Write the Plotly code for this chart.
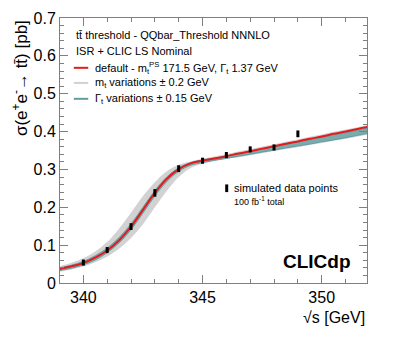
import plotly.graph_objects as go

# ---- data ----
sqrt_s = [339.0, 339.5, 340.0, 340.5, 341.0, 341.5, 342.0, 342.5, 343.0, 343.5,
          344.0, 344.5, 345.0, 345.5, 346.0, 346.5, 347.0, 347.5, 348.0, 348.5,
          349.0, 349.5, 350.0, 350.5, 351.0, 351.5, 352.0]

xsec_default = [0.037, 0.044, 0.053, 0.067, 0.086, 0.113, 0.149, 0.193, 0.238, 0.275,
                0.301, 0.316, 0.323, 0.329, 0.335, 0.342, 0.348, 0.355, 0.361, 0.368,
                0.374, 0.381, 0.387, 0.394, 0.400, 0.407, 0.413]

mt_var_hi = [0.043, 0.052, 0.064, 0.082, 0.107, 0.142, 0.184, 0.228, 0.265, 0.294,
             0.311, 0.320, 0.327, 0.333, 0.339, 0.346, 0.352, 0.359, 0.365, 0.372,
             0.378, 0.385, 0.391, 0.398, 0.404, 0.410, 0.417]
mt_var_lo = [0.031, 0.037, 0.045, 0.056, 0.071, 0.092, 0.120, 0.157, 0.202, 0.245,
             0.281, 0.305, 0.316, 0.324, 0.330, 0.333, 0.339, 0.344, 0.350, 0.355,
             0.360, 0.366, 0.371, 0.377, 0.382, 0.388, 0.394]

gt_var_hi = [0.040, 0.047, 0.057, 0.072, 0.092, 0.120, 0.156, 0.200, 0.244, 0.280,
             0.304, 0.318, 0.325, 0.330, 0.336, 0.342, 0.348, 0.354, 0.360, 0.366,
             0.372, 0.378, 0.385, 0.391, 0.397, 0.404, 0.410]
gt_var_lo = [0.033, 0.039, 0.048, 0.061, 0.080, 0.106, 0.141, 0.185, 0.230, 0.268,
             0.295, 0.311, 0.318, 0.324, 0.329, 0.335, 0.340, 0.346, 0.351, 0.357,
             0.362, 0.367, 0.373, 0.378, 0.384, 0.390, 0.396]

data_x = [340, 341, 342, 343, 344, 345, 346, 347, 348, 349]
data_y = [0.054, 0.087, 0.149, 0.238, 0.302, 0.323, 0.338, 0.353, 0.358, 0.394]
data_err = [0.008, 0.008, 0.009, 0.010, 0.009, 0.008, 0.008, 0.008, 0.008, 0.009]

RED = "#e41a1c"
GREY = "#d2d2d2"
TEAL = "#5f9ea0"
FONT = "Liberation Sans, Arial, Helvetica, sans-serif"

fig = go.Figure()

# m_t variation band (grey)
fig.add_trace(go.Scatter(x=sqrt_s, y=mt_var_lo, mode="lines", line=dict(color=GREY, width=1, shape="spline"),
                         showlegend=False, hoverinfo="skip"))
fig.add_trace(go.Scatter(x=sqrt_s, y=mt_var_hi, mode="lines", line=dict(color=GREY, width=1, shape="spline"),
                         fill="tonexty", fillcolor=GREY, showlegend=False, hoverinfo="skip"))
# Gamma_t variation band (teal)
fig.add_trace(go.Scatter(x=sqrt_s, y=gt_var_lo, mode="lines", line=dict(color=TEAL, width=1, shape="spline"),
                         showlegend=False, hoverinfo="skip"))
fig.add_trace(go.Scatter(x=sqrt_s, y=gt_var_hi, mode="lines", line=dict(color=TEAL, width=1, shape="spline"),
                         fill="tonexty", fillcolor="rgba(95,158,160,0.75)", showlegend=False, hoverinfo="skip"))
# default curve
fig.add_trace(go.Scatter(x=sqrt_s, y=xsec_default, mode="lines", line=dict(color=RED, width=2, shape="spline"),
                         showlegend=False))
# simulated data points
fig.add_trace(go.Scatter(x=data_x, y=data_y, mode="markers",
                         marker=dict(size=2, color="black"),
                         error_y=dict(type="data", array=data_err, visible=True, color="black",
                                      thickness=3, width=0),
                         showlegend=False))

axis_common = dict(showline=True, linecolor="#7f7f7f", linewidth=1, mirror="allticks",
                   ticks="inside", tickcolor="#7f7f7f", ticklen=8, tickwidth=1,
                   showgrid=False, zeroline=False, automargin=False,
                   tickfont=dict(family=FONT, size=16, color="black"))

fig.update_xaxes(range=[339.02, 351.9], tickvals=[340, 345, 350],
                 minor=dict(ticks="inside", ticklen=4, dtick=1, tick0=340, tickcolor="#7f7f7f", showgrid=False),
                 **axis_common)
fig.update_yaxes(range=[0, 0.7], tickvals=[0, 0.1, 0.2, 0.3, 0.4, 0.5, 0.6, 0.7],
                 ticktext=["0", "0.1", "0.2", "0.3", "0.4", "0.5", "0.6", "0.7"],
                 minor=dict(ticks="inside", ticklen=4, dtick=0.02, tick0=0, tickcolor="#7f7f7f", showgrid=False),
                 **axis_common)

ann = []
# axis titles
ann.append(dict(text="σ(e<sup>+</sup>e<sup>-</sup>→ tt\u0304) [pb]", xref="paper", yref="paper",
                x=-0.13, y=1.0, xanchor="center", yanchor="top", textangle=-90, showarrow=False,
                font=dict(family=FONT, size=17, color="black")))
ann.append(dict(text="√s [GeV]", xref="paper", yref="paper", x=1.0, y=-0.092,
                xanchor="right", yanchor="top", showarrow=False,
                font=dict(family=FONT, size=16, color="black")))
# legend header lines
leg_font = dict(family=FONT, size=11, color="black")
ann.append(dict(text="tt\u0304 threshold - QQbar_Threshold NNNLO", xref="paper", yref="paper",
                x=0.045, y=0.935, xanchor="left", yanchor="middle", showarrow=False, font=leg_font))
ann.append(dict(text="ISR + CLIC LS Nominal", xref="paper", yref="paper",
                x=0.045, y=0.875, xanchor="left", yanchor="middle", showarrow=False, font=leg_font))
ann.append(dict(text="default - m<sub>t</sub><sup>PS</sup> 171.5 GeV, Γ<sub>t</sub> 1.37 GeV", xref="paper", yref="paper",
                x=0.106, y=0.812, xanchor="left", yanchor="middle", showarrow=False, font=leg_font))
ann.append(dict(text="m<sub>t</sub> variations ± 0.2 GeV", xref="paper", yref="paper",
                x=0.106, y=0.755, xanchor="left", yanchor="middle", showarrow=False, font=leg_font))
ann.append(dict(text="Γ<sub>t</sub> variations ± 0.15 GeV", xref="paper", yref="paper",
                x=0.106, y=0.695, xanchor="left", yanchor="middle", showarrow=False, font=leg_font))
ann.append(dict(text="simulated data points", xref="paper", yref="paper",
                x=0.56, y=0.358, xanchor="left", yanchor="middle", showarrow=False, font=leg_font))
ann.append(dict(text="100 fb<sup>-1</sup> total", xref="paper", yref="paper",
                x=0.56, y=0.31, xanchor="left", yanchor="middle", showarrow=False,
                font=dict(family=FONT, size=9, color="black")))
ann.append(dict(text="<b>CLICdp</b>", xref="paper", yref="paper",
                x=0.955, y=0.08, xanchor="right", yanchor="middle", showarrow=False,
                font=dict(family=FONT, size=19, color="black")))
fig.update_layout(annotations=ann)

# legend line samples
shapes = []
for yv, col in [(0.812, RED), (0.755, GREY), (0.695, TEAL)]:
    shapes.append(dict(type="line", xref="paper", yref="paper", x0=0.045, x1=0.092, y0=yv, y1=yv,
                       line=dict(color=col, width=2)))
shapes.append(dict(type="line", xref="paper", yref="paper", x0=0.543, x1=0.543, y0=0.343, y1=0.372,
                   line=dict(color="black", width=3)))
fig.update_layout(shapes=shapes)

fig.update_layout(width=399, height=338, margin=dict(l=52, r=40, t=10, b=63),
                  plot_bgcolor="white", paper_bgcolor="white", showlegend=False)

fig.write_html("out.html")
